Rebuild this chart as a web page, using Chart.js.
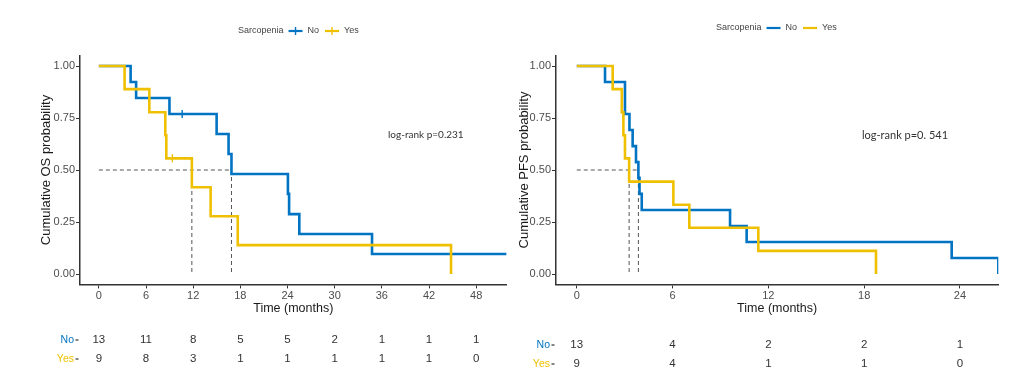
<!DOCTYPE html>
<html><head><meta charset="utf-8">
<script src="https://cdn.jsdelivr.net/npm/chart.js@4/dist/chart.umd.min.js"></script>
<style>
html,body{margin:0;padding:0;background:#fff;width:1017px;height:382px;overflow:hidden}
#c1{position:absolute;left:0;top:0}
#c2{position:absolute;left:512px;top:0}
</style></head><body>
<canvas id="c1" width="512" height="382"></canvas>
<canvas id="c2" width="505" height="382"></canvas>
<script>
// ---------- data ----------
const groups = ['No', 'Yes'];
const legendTitle = 'Sarcopenia';
const yTicks = [0, 0.25, 0.5, 0.75, 1];

// Overall survival
const osNoTime  = [0, 4.04, 4.74, 8.98, 14.98, 16.5, 16.87, 24.05, 24.2, 25.5, 34.75, 51.87];
const osNoSurv  = [1, 0.923, 0.846, 0.769, 0.673, 0.577, 0.481, 0.385, 0.288, 0.192, 0.096, 0.096];
const osYesTime = [0, 3.27, 6.42, 8.45, 8.58, 11.83, 14.22, 17.67, 44.8];
const osYesSurv = [1, 0.889, 0.778, 0.667, 0.556, 0.417, 0.278, 0.139, 0];
const osNoCensorTime = [10.6];  const osNoCensorSurv = [0.769];
const osYesCensorTime = [9.35]; const osYesCensorSurv = [0.556];
const osMedians = [11.83, 16.87];
const osTicks = [0, 6, 12, 18, 24, 30, 36, 42, 48];
const osRiskNo  = [13, 11, 8, 5, 5, 2, 1, 1, 1];
const osRiskYes = [9, 8, 3, 1, 1, 1, 1, 1, 0];
const osPValue = 'log-rank p=0.231';

// Progression-free survival
const pfsNoTime  = [0, 1.77, 3.02, 3.3, 3.5, 3.71, 3.86, 3.93, 4.07, 9.6, 10.64, 23.48, 26.4];
const pfsNoSurv  = [1, 0.923, 0.769, 0.692, 0.615, 0.538, 0.462, 0.385, 0.308, 0.231, 0.154, 0.077, 0];
const pfsYesTime = [0, 2.25, 2.82, 2.92, 3.02, 3.28, 6.05, 7.05, 11.37, 18.74];
const pfsYesSurv = [1, 0.889, 0.778, 0.667, 0.556, 0.444, 0.333, 0.222, 0.111, 0];
const pfsMedians = [3.28, 3.86];
const pfsTicks = [0, 6, 12, 18, 24];
const pfsRiskNo  = [13, 4, 2, 2, 1];
const pfsRiskYes = [9, 4, 1, 1, 0];
const pfsPValue = 'log-rank p=0. 541';

// ---------- styling ----------
const BLUE = '#0073C2', YELLOW = '#EFC000';
const colors = [BLUE, YELLOW];
const FONT = '"Liberation Sans", Arial, sans-serif';

const pts = (t, s) => t.map((v, i) => ({x: v, y: s[i]}));

const extras = {
  id: 'extras',
  afterDraw(chart, args, o) {
    const ctx = chart.ctx, xs = chart.scales.x, ys = chart.scales.y;
    ctx.save();
    // legend
    ctx.font = '9px ' + FONT; ctx.textBaseline = 'middle'; ctx.textAlign = 'left';
    let lx = o.legendX; const ly = o.legendY;
    ctx.fillStyle = '#444';
    ctx.fillText(legendTitle, lx, ly);
    lx += ctx.measureText(legendTitle).width + 5;
    groups.forEach((g, i) => {
      ctx.strokeStyle = colors[i]; ctx.lineWidth = 2.2;
      ctx.beginPath(); ctx.moveTo(lx, ly); ctx.lineTo(lx + 14, ly); ctx.stroke();
      if (o.censorKey) {
        ctx.lineWidth = 1.4;
        ctx.beginPath(); ctx.moveTo(lx + 7, ly - 4); ctx.lineTo(lx + 7, ly + 4); ctx.stroke();
      }
      lx += 19;
      ctx.fillStyle = '#444';
      ctx.fillText(g, lx, ly);
      lx += ctx.measureText(g).width + 6;
    });
    // log-rank text
    ctx.font = o.pFont + 'px Lato, "Liberation Sans", sans-serif';
    ctx.fillStyle = '#333'; ctx.textAlign = 'left';
    ctx.fillText(o.pText, o.pX, o.pY);
    // risk table
    ctx.font = '11.5px ' + FONT; ctx.textAlign = 'center';
    [o.riskNo, o.riskYes].forEach((row, r) => {
      const y = o.riskY[r];
      ctx.fillStyle = '#333';
      row.forEach((n, j) => ctx.fillText(String(n), xs.getPixelForValue(o.riskTimes[j]), y));
      ctx.textAlign = 'right'; ctx.fillStyle = colors[r];
      ctx.font = '10.5px ' + FONT;
      ctx.fillText(groups[r], xs.left - 6, y);
      ctx.strokeStyle = '#333'; ctx.lineWidth = 1.2;
      ctx.beginPath(); ctx.moveTo(xs.left - 4.5, y); ctx.lineTo(xs.left - 1.5, y); ctx.stroke();
      ctx.font = '11.5px ' + FONT; ctx.textAlign = 'center';
    });
    ctx.restore();
  }
};

function makeChart(id, cfg) {
  const datasets = [];
  // medians (dashed)
  const dash = {showLine: true, pointRadius: 0, borderColor: '#555', borderWidth: 1, borderDash: [4, 3], fill: false, order: 5};
  datasets.push(Object.assign({data: [{x: 0, y: 0.5}, {x: Math.max(...cfg.medians), y: 0.5}]}, dash));
  cfg.medians.forEach(m => datasets.push(Object.assign({data: [{x: m, y: 0.5}, {x: m, y: 0}]}, dash)));
  // curves
  datasets.push({label: 'No', data: pts(cfg.noT, cfg.noS), showLine: true, stepped: 'before', pointRadius: 0,
    borderColor: BLUE, borderWidth: 2.6, fill: false, order: 3});
  datasets.push({label: 'Yes', data: pts(cfg.yesT, cfg.yesS), showLine: true, stepped: 'before', pointRadius: 0,
    borderColor: YELLOW, borderWidth: 2.6, fill: false, order: 2});
  if (cfg.noCT) datasets.push({data: pts(cfg.noCT, cfg.noCS), showLine: false, pointStyle: 'line', rotation: 90,
    pointRadius: 4, borderColor: BLUE, borderWidth: 1.4, order: 1});
  if (cfg.yesCT) datasets.push({data: pts(cfg.yesCT, cfg.yesCS), showLine: false, pointStyle: 'line', rotation: 90,
    pointRadius: 4, borderColor: YELLOW, borderWidth: 1.4, order: 1});

  return new Chart(document.getElementById(id), {
    type: 'scatter',
    data: {datasets},
    plugins: [extras],
    options: {
      responsive: false, animation: false, events: [],
      layout: {padding: {left: 0, right: cfg.padRight, top: 55.6, bottom: 0}},
      plugins: {
        legend: {display: false}, tooltip: {enabled: false},
        extras: cfg.extras
      },
      scales: {
        x: {
          type: 'linear', min: cfg.xMin, max: cfg.xMax,
          afterBuildTicks: s => { s.ticks = cfg.ticks.map(v => ({value: v})); },
          afterFit: s => { s.height = 97.6; },
          ticks: {color: '#4d4d4d', font: {size: 11, family: FONT}, padding: 1, maxRotation: 0, autoSkip: false},
          grid: {drawOnChartArea: false, drawTicks: true, tickLength: 4, tickWidth: 1, tickColor: '#333'},
          border: {display: true, color: '#333', width: 1.5},
          title: {display: true, text: 'Time (months)', color: '#1a1a1a', font: {size: 12.5, family: FONT},
            padding: {top: 66, bottom: 66}}
        },
        y: {
          type: 'linear', min: -0.05, max: 1.05,
          afterBuildTicks: s => { s.ticks = yTicks.map(v => ({value: v})); },
          afterFit: s => { s.width = cfg.yWidth; },
          ticks: {color: '#4d4d4d', font: {size: 11, family: FONT}, padding: 1, callback: v => Number(v).toFixed(2)},
          grid: {drawOnChartArea: false, drawTicks: true, tickLength: 4, tickWidth: 1, tickColor: '#333'},
          border: {display: true, color: '#333', width: 1.5},
          title: {display: true, text: cfg.yTitle, color: '#1a1a1a', font: {size: 13, family: FONT},
            padding: {top: cfg.yTitlePad, bottom: cfg.yTitlePad}}
        }
      }
    }
  });
}

makeChart('c1', {
  noT: osNoTime, noS: osNoSurv, yesT: osYesTime, yesS: osYesSurv,
  noCT: osNoCensorTime, noCS: osNoCensorSurv, yesCT: osYesCensorTime, yesCS: osYesCensorSurv,
  medians: osMedians, ticks: osTicks, xMin: -2.4, xMax: 51.87, padRight: 2, yWidth: 80, yTitlePad: 39,
  yTitle: 'Cumulative OS probability',
  extras: {legendX: 238, legendY: 31, censorKey: true, pText: osPValue, pX: 388, pY: 135, pFont: 10,
    riskNo: osRiskNo, riskYes: osRiskYes, riskTimes: osTicks, riskY: [340, 359]}
});

makeChart('c2', {
  noT: pfsNoTime, noS: pfsNoSurv, yesT: pfsYesTime, yesS: pfsYesSurv,
  medians: pfsMedians, ticks: pfsTicks, xMin: -1.3, xMax: 26.4, padRight: 18.7, yWidth: 44, yTitlePad: 5,
  yTitle: 'Cumulative PFS probability',
  extras: {legendX: 204, legendY: 28, censorKey: false, pText: pfsPValue, pX: 350, pY: 135, pFont: 11,
    riskNo: pfsRiskNo, riskYes: pfsRiskYes, riskTimes: pfsTicks, riskY: [345, 364]}
});
</script>
</body></html>
